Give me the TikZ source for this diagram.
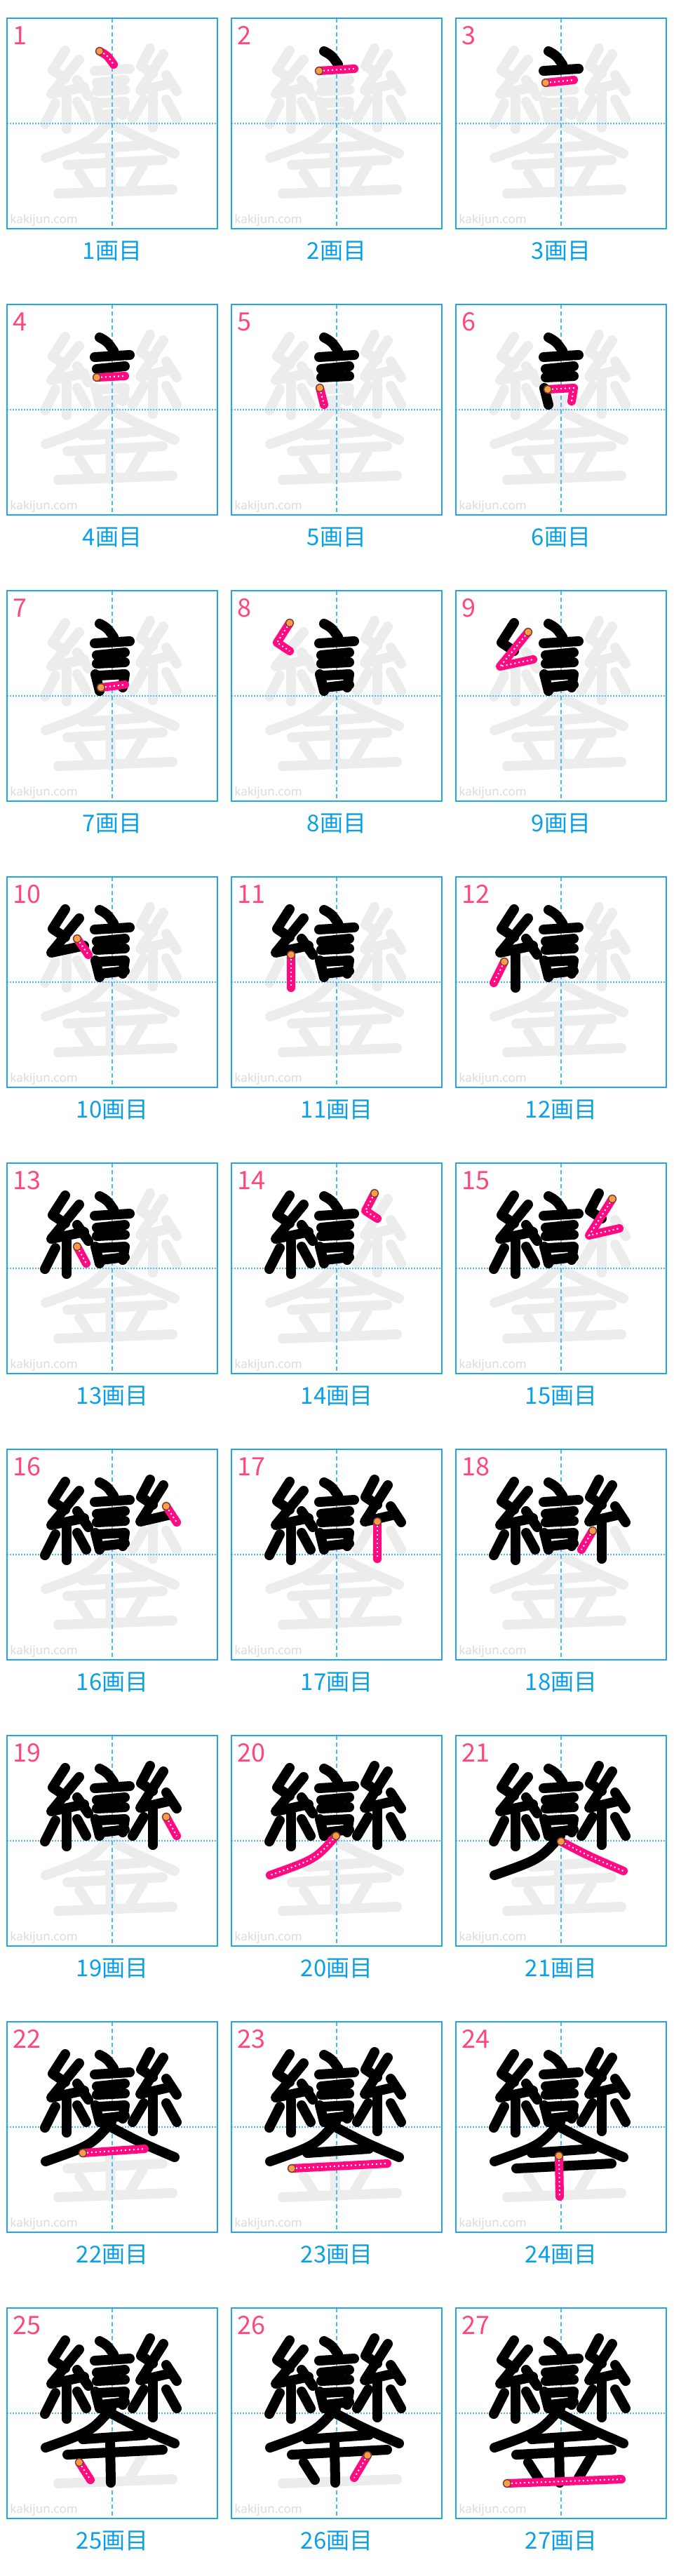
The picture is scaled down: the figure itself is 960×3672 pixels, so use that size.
\documentclass[tikz,border=0pt]{standalone}
\usepackage{fontspec}
\setmainfont{Noto Sans}
\newfontfamily\jpfont{Noto Sans CJK JP}
\usepackage{xcolor}
\usepackage{tikz}
\usetikzlibrary{positioning}
\definecolor{boxblue}{RGB}{30, 168, 235}
\definecolor{guideblue}{RGB}{70, 190, 240}
\definecolor{capblue}{RGB}{10, 160, 232}
\definecolor{numpink}{RGB}{255, 72, 122}
\definecolor{inkpink}{RGB}{255, 10, 130}
\definecolor{ghostgray}{RGB}{236, 236, 236}
\definecolor{markgray}{RGB}{218, 218, 218}
\definecolor{dotorange}{RGB}{255, 155, 70}
\definecolor{dotedge}{RGB}{95, 65, 45}

% stroke n of the character, box pixels (y downwards)
\newcommand{\defstroke}[2]{\expandafter\def\csname stk#1\endcsname{#2}}
\newcommand{\usestroke}[1]{\expandafter\let\expandafter\curpath\csname stk#1\endcsname}

\defstroke{1}{(132,47) coordinate (st) .. controls (143,53) .. (152,66)}
\defstroke{2}{(125,75) coordinate (st) -- (175,72)}
\defstroke{3}{(128,92) coordinate (st) -- (168,88)}
\defstroke{4}{(128,104) coordinate (st) -- (168,102)}
\defstroke{5}{(126,119) coordinate (st) -- (132,143)}
\defstroke{6}{(131,121) coordinate (st) -- (168,119) -- (165,138)}
\defstroke{7}{(134,138) coordinate (st) -- (168,134)}
\defstroke{8}{(83,46) coordinate (st) -- (65,74) -- (83,86)}
\defstroke{9}{(103,59) coordinate (st) -- (63,108) -- (110,98)}
\defstroke{10}{(100,88) coordinate (st) -- (116,111)}
\defstroke{11}{(85,111) coordinate (st) -- (85,158)}
\defstroke{12}{(69,121) coordinate (st) -- (54,151)}
\defstroke{13}{(100,119) coordinate (st) -- (113,143)}
\defstroke{14}{(204,43) coordinate (st) -- (191,68) -- (208,79)}
\defstroke{15}{(223,51) coordinate (st) -- (190,103) -- (233,93)}
\defstroke{16}{(227,81) coordinate (st) -- (242,104)}
\defstroke{17}{(208,103) coordinate (st) -- (208,156)}
\defstroke{18}{(195,116) coordinate (st) -- (179,143)}
\defstroke{19}{(227,116) coordinate (st) -- (242,143)}
\defstroke{20}{(149,143) coordinate (st) .. controls (120,176) .. (55,199)}
\defstroke{21}{(150,151) coordinate (st) .. controls (190,172) .. (239,193)}
\defstroke{22}{(108,187) coordinate (st) -- (196,181)}
\defstroke{23}{(86,209) coordinate (st) -- (222,202)}
\defstroke{24}{(147,191) coordinate (st) -- (148,249)}
\defstroke{25}{(103,220) coordinate (st) -- (119,245)}
\defstroke{26}{(194,210) coordinate (st) -- (175,242)}
\defstroke{27}{(73,250) coordinate (st) -- (236,244)}

\tikzset{
  brush/.style={line width=7pt, line cap=round, line join=round},
  ghost/.style={brush, draw=ghostgray},
  inked/.style={brush, draw=black},
  current/.style={line width=6pt, line cap=round, line join=round, draw=inkpink},
  dots/.style={draw=white, line width=1pt, dash pattern=on 1pt off 2pt},
  startdot/.style={fill=dotorange, draw=dotedge, line width=0.6pt},
  boxline/.style={draw=boxblue, line width=1pt},
  vguide/.style={draw=guideblue, line width=0.7pt, dash pattern=on 3pt off 2pt},
  hguide/.style={draw=guideblue, line width=0.8pt, dash pattern=on 1pt off 1pt},
  wmark/.style={text=markgray, font=\fontsize{8.5}{9}\selectfont, inner sep=0pt},
  numlabel/.style={text=numpink, font=\jpfont\fontsize{18}{18}\selectfont, inner sep=0pt},
  caption/.style={text=capblue, font=\jpfont\fontsize{16.5}{17}\selectfont, inner sep=0pt}
}

\begin{document}
\begin{tikzpicture}[x=0.5pt, y=-0.5pt]
  \fill[white] (0,0) rectangle (960,3672);
  \useasboundingbox (0,0) rectangle (960,3672);
  \foreach \k in {1,...,27}{
    \pgfmathtruncatemacro\row{(\k-1)/3}
    \pgfmathtruncatemacro\col{\k-1-3*\row}
    \begin{scope}[shift={(10+320*\col,26+408*\row)}]
      \node[wmark, anchor=base west] (wm\k) at (4,292) {kakijun.com};
      \foreach \s in {1,...,27}{\usestroke{\s}\draw[ghost] \curpath;}
      \draw[vguide] (150,0) -- (150,300);
      \draw[hguide] (0,150) -- (300,150);
      \foreach \s in {1,...,27}{\ifnum\s<\k\relax \usestroke{\s}\draw[inked] \curpath;\fi}
      \usestroke{\k}
      \draw[current] \curpath;
      \draw[dots] \curpath;
      \draw[startdot] (st) circle[radius=5.5];
      \draw[boxline] (0,0) rectangle (300,300);
      \node[numlabel, anchor=north west] (num\k) at (8,11) {\k};
      \node[caption] (cap\k) at (150,332) {\k 画目};
    \end{scope}
  }
\end{tikzpicture}
\end{document}
